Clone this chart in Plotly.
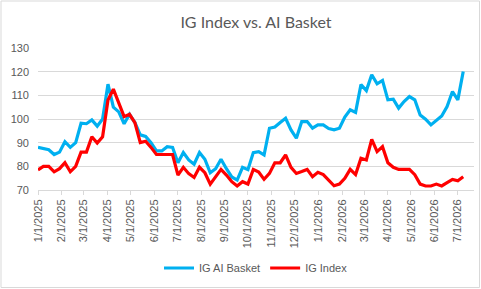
import plotly.graph_objects as go
import pandas as pd

# Weekly observation dates
dates = pd.date_range("2025-01-01", periods=80, freq="7D")

ai_basket = [88, 87.5, 87, 85, 86, 90.4, 88, 90, 98.2, 98,
             99.6, 97, 100, 114.7, 105, 103, 98, 102, 98.5, 93.3,
             92.6, 90, 86.5, 86.5, 88.3, 88, 81.5, 85.8, 82.7, 80.9,
             85.8, 83, 77.3, 79, 83, 79, 75.5, 74.2, 79.6, 78.6,
             85.8, 86.2, 84.8, 96.1, 96.6, 98.5, 100.3, 95.4, 91.9, 98.9,
             98.9, 96.1, 97.5, 97.5, 96, 95.4, 96.1, 100.8, 103.9, 102.8,
             114.5, 112, 118.7, 114.9, 116.3, 108.1, 108.4, 104.6, 107.4, 109.5,
             108.1, 101.7, 99.9, 97.5, 99.6, 101.3, 105.3, 111.6, 108.1, 120.1]

ig_index = [78.5, 80, 80, 77.7, 79, 81.5, 77.7, 80, 86, 86,
            92.5, 89.8, 92.5, 108, 112.6, 107, 101, 102, 98.5, 90,
            90.6, 88, 85, 85, 85, 85, 76.3, 79.6, 76.9, 75.3,
            79.6, 77.3, 72.5, 75.6, 78.7, 76.3, 73.5, 71.7, 73.5, 72.5,
            78.7, 77.6, 74.5, 77, 81.5, 81.5, 84.8, 79.6, 77, 77.8,
            78.7, 75.6, 77.5, 76.5, 73.9, 71.8, 72.5, 74.9, 78.7, 76.5,
            83.4, 82.7, 91.4, 86.2, 88.3, 81.5, 79.6, 78.7, 78.7, 78.7,
            76.5, 72.5, 71.7, 71.7, 72.5, 71.7, 73.1, 74.5, 73.9, 75.6]

series_names = ["IG AI Basket", "IG Index"]
series_colors = ["#00B0F0", "#FF0000"]
title_text = "IG Index vs. AI Basket"
tick_dates = pd.date_range("2025-01-01", "2026-07-01", freq="MS")
tick_labels = [f"{d.month}/{d.day}/{d.year}" for d in tick_dates]

fig = go.Figure()
for name, vals, col in zip(series_names, [ai_basket, ig_index], series_colors):
    fig.add_trace(go.Scatter(x=dates, y=vals, name=name, mode="lines",
                             line=dict(color=col, width=3.2)))

W, H = 481, 289
ml, mr, mt, mb = 38, 7, 48, 99
pw, ph = W - ml - mr, H - mt - mb

fig.update_layout(
    width=W, height=H,
    margin=dict(l=ml, r=mr, t=mt, b=mb),
    paper_bgcolor="white", plot_bgcolor="white",
    font=dict(family="Liberation Sans, Arial", size=11, color="#595959"),
    title=dict(text=title_text, x=0.5, xref="paper", xanchor="center",
               y=1 - 22 / H, yanchor="middle",
               font=dict(family="Lato", size=16, color="#595959")),
    showlegend=True,
    legend=dict(orientation="h", x=0.5, xanchor="center", xref="paper",
                y=-(268 - mt - ph) / ph, yanchor="middle",
                font=dict(size=11, color="#595959"), itemwidth=30,
                bgcolor="rgba(0,0,0,0)"),
    xaxis=dict(type="date", range=["2025-01-01", "2026-07-22"],
               tickmode="array", tickvals=tick_dates, ticktext=tick_labels,
               tickangle=-90, showgrid=False, showline=True,
               linecolor="#d9d9d9", linewidth=1, ticks="outside",
               ticklen=4, tickcolor="#d9d9d9", zeroline=False,
               tickfont=dict(size=11, color="#595959")),
    yaxis=dict(range=[70, 130], tickvals=[70, 80, 90, 100, 110, 120, 130],
               showgrid=True, gridcolor="#d9d9d9", gridwidth=1,
               zeroline=False, showline=False, ticks="",
               ticklabelstandoff=8,
               tickfont=dict(size=11, color="#595959")),
)

fig.add_shape(type="rect", xref="paper", yref="paper",
              x0=-(ml - 1) / pw, x1=1 + (mr - 1.5) / pw,
              y0=-(mb - 1.5) / ph, y1=1 + (mt - 1) / ph,
              line=dict(color="#d9d9d9", width=1), fillcolor="rgba(0,0,0,0)",
              layer="below")

fig.write_html("out.html")
